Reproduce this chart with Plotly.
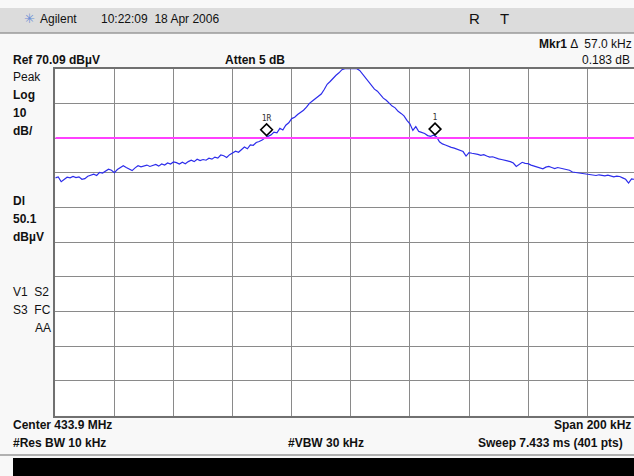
import plotly.graph_objects as go

# ---- instrument settings ----
center_mhz = 433.9
span_khz = 200
ref_level = 70.09          # dBuV, top graticule line
db_per_div = 10
display_line = 50.1        # dBuV

# ---- trace: offset from centre (kHz) and level (dBuV), 1 kHz steps ----
freq_khz = list(range(-100, 101))
level_dbuv = [
    38.6, 38.9, 37.5, 38.3, 38.8, 38.6, 39.0, 38.7, 38.9, 38.2,   # -100..-91
    38.4, 39.1, 39.4, 39.7, 39.3, 40.2, 40.0, 40.6, 41.1, 40.8,   # -90..-81
    40.1, 41.0, 41.5, 42.1, 41.6, 41.2, 40.7, 41.5, 42.1, 41.8,   # -80..-71
    42.0, 42.3, 41.9, 42.1, 42.5, 42.0, 42.6, 42.3, 42.9, 42.6,   # -70..-61
    43.2, 43.0, 42.6, 43.1, 42.7, 43.3, 43.7, 43.3, 44.0, 43.6,   # -60..-51
    43.9, 43.7, 44.3, 44.0, 44.6, 44.3, 45.2, 45.0, 44.5, 45.3,   # -50..-41
    45.9, 46.3, 46.0, 46.9, 47.5, 47.0, 48.1, 48.0, 48.8, 49.1,   # -40..-31
    49.5, 50.2, 50.6, 51.0, 51.8, 51.6, 52.9, 52.4, 53.8, 54.5,   # -30..-21
    55.7, 56.1, 56.9, 57.4, 58.1, 59.0, 60.1, 60.8, 61.4, 62.1,   # -20..-11
    62.8, 64.1, 65.6, 66.4, 67.4, 68.2, 68.9, 69.8, 70.09, 70.09, # -10..-1
    70.09,                                                        # 0
    70.09, 70.09, 69.6, 68.5, 67.6, 66.4, 65.2, 64.2, 63.6, 62.6, # 1..10
    61.6, 61.0, 60.0, 59.3, 58.8, 57.8, 57.2, 56.5, 55.2, 54.2,   # 11..20
    52.3, 53.4, 52.0, 51.7, 51.4, 50.8, 50.6, 50.9, 50.5, 49.0,   # 21..30
    48.4, 48.1, 47.7, 47.4, 47.2, 46.8, 46.5, 46.2, 44.9, 45.9,   # 31..40
    45.7, 45.6, 45.4, 45.1, 45.3, 44.9, 44.6, 44.7, 44.3, 44.1,   # 41..50
    43.9, 43.6, 43.5, 43.3, 42.9, 41.9, 42.6, 43.1, 42.8, 42.7,   # 51..60
    42.3, 42.0, 41.8, 41.4, 41.2, 41.7, 41.9, 41.6, 41.3, 41.6,   # 61..70
    41.4, 41.3, 40.9, 40.8, 40.3, 40.2, 40.1, 40.0, 39.8, 39.8,   # 71..80
    39.7, 39.6, 39.3, 39.5, 39.4, 39.2, 39.4, 39.1, 38.9, 39.1,   # 81..90
    39.0, 38.6, 38.2, 37.1, 38.3, 38.2, 38.4, 38.0, 38.2, 38.1,   # 91..100
]

# ---- markers: reference marker 1R and delta marker 1 ----
marker_names = ["1R", "1"]
marker_khz = [-28.5, 28.5]           # delta 57.0 kHz
marker_dbuv = [51.30, 51.30 + 0.183]  # delta 0.183 dB

W, H = 634, 476
X0, X_DIV = 55.3, 59.1        # left graticule edge, pixels per division
Y0, Y1 = 68.7, 415.5          # top / bottom graticule edges

khz_per_div = span_khz / 10
visible_right = -span_khz / 2 + (W - X0) / X_DIV * khz_per_div

def px(x):
    return x / W

def py(y):
    return 1 - y / H

FONT = "Liberation Sans, Arial, sans-serif"

fig = go.Figure()

fig.add_trace(go.Scatter(
    x=freq_khz, y=level_dbuv, mode="lines",
    line=dict(color="rgb(45,45,235)", width=1.2),
    hoverinfo="skip", showlegend=False,
))

# display line
fig.add_trace(go.Scatter(
    x=[-span_khz / 2, span_khz / 2], y=[display_line, display_line], mode="lines",
    line=dict(color="rgb(255,64,255)", width=2),
    hoverinfo="skip", showlegend=False,
))

# marker diamonds with their labels
fig.add_trace(go.Scatter(
    x=marker_khz, y=[v + 1.2 for v in marker_dbuv], mode="markers+text",
    marker=dict(symbol="diamond-open", size=9, color="black", line=dict(width=1.6, color="black")),
    text=marker_names, textposition="top center",
    textfont=dict(family="DejaVu Sans Mono, monospace", size=8, color="#333333"),
    hoverinfo="skip", showlegend=False, cliponaxis=False,
))

fig.update_xaxes(
    domain=[px(X0), 1], range=[-span_khz / 2, visible_right],
    tick0=-span_khz / 2, dtick=khz_per_div,
    showgrid=True, gridcolor="#8a8a8a", gridwidth=1.4,
    showline=True, linecolor="#707070", linewidth=2, mirror=True,
    zeroline=False, showticklabels=False, ticks="",
)
fig.update_yaxes(
    domain=[py(Y1), py(Y0)], range=[ref_level - 10 * db_per_div, ref_level],
    tick0=ref_level, dtick=db_per_div,
    showgrid=True, gridcolor="#8a8a8a", gridwidth=1.4,
    showline=True, linecolor="#707070", linewidth=2, mirror=False,
    zeroline=False, showticklabels=False, ticks="",
)

shapes = [
    # title bar
    dict(type="rect", xref="paper", yref="paper", x0=0, x1=1, y0=py(33), y1=py(8),
         fillcolor="#dcdcdc", line=dict(width=0), layer="below"),
    dict(type="line", xref="paper", yref="paper", x0=0, x1=1, y0=py(33), y1=py(33),
         line=dict(color="#9a9a9a", width=1.5)),
    # bottom status bar
    dict(type="line", xref="paper", yref="paper", x0=px(0), x1=1, y0=py(455), y1=py(455),
         line=dict(color="#9a9a9a", width=1.5)),
    dict(type="rect", xref="paper", yref="paper", x0=px(13), x1=1, y0=0, y1=py(458),
         fillcolor="black", line=dict(width=0)),
]

annotations = []

def label(text, x, y, anchor="left", bold=False, size=12, color="#111111", family=FONT):
    annotations.append(dict(
        text=f"<b>{text}</b>" if bold else text,
        xref="paper", yref="paper", x=px(x), y=py(y),
        xanchor=anchor, yanchor="middle", showarrow=False,
        font=dict(family=family, size=size, color=color),
    ))

label("✳", 22, 19, size=13, color="#6d8fd6", family="DejaVu Sans")
label("Agilent", 38, 19, size=12)
label("10:22:09  18 Apr 2006", 99, 19, size=12)
label("R", 467, 19, size=15)
label("T", 498, 19, size=15)

label("<b>Mkr1</b> Δ  57.0 kHz", 634, 44, anchor="right")
label("Ref 70.09 dBµV", 11, 60, bold=True)
label("Atten 5 dB", 223, 60, bold=True)
label("0.183 dB", 632, 60, anchor="right")

label("Peak", 11, 77)
label("Log", 11, 95, bold=True)
label("10", 11, 113, bold=True)
label("dB/", 11, 131, bold=True)
label("Dl", 11, 201, bold=True)
label("50.1", 11, 219, bold=True)
label("dBµV", 11, 237, bold=True)
label("V1  S2", 11, 292)
label("S3  FC", 11, 310)
label("AA", 53, 328, anchor="right")

label(f"Center {center_mhz} MHz", 11, 425, bold=True)
label(f"Span {span_khz} kHz", 633, 425, anchor="right", bold=True)
label("#Res BW 10 kHz", 11, 443, bold=True)
label("#VBW 30 kHz", 286, 443, bold=True)
label("Sweep 7.433 ms (401 pts)", 625, 443, anchor="right", bold=True)

fig.update_layout(
    width=W, height=H, margin=dict(l=0, r=0, t=0, b=0),
    paper_bgcolor="#f8f8f8", plot_bgcolor="white",
    shapes=shapes, annotations=annotations,
)

fig.write_html("out.html")
